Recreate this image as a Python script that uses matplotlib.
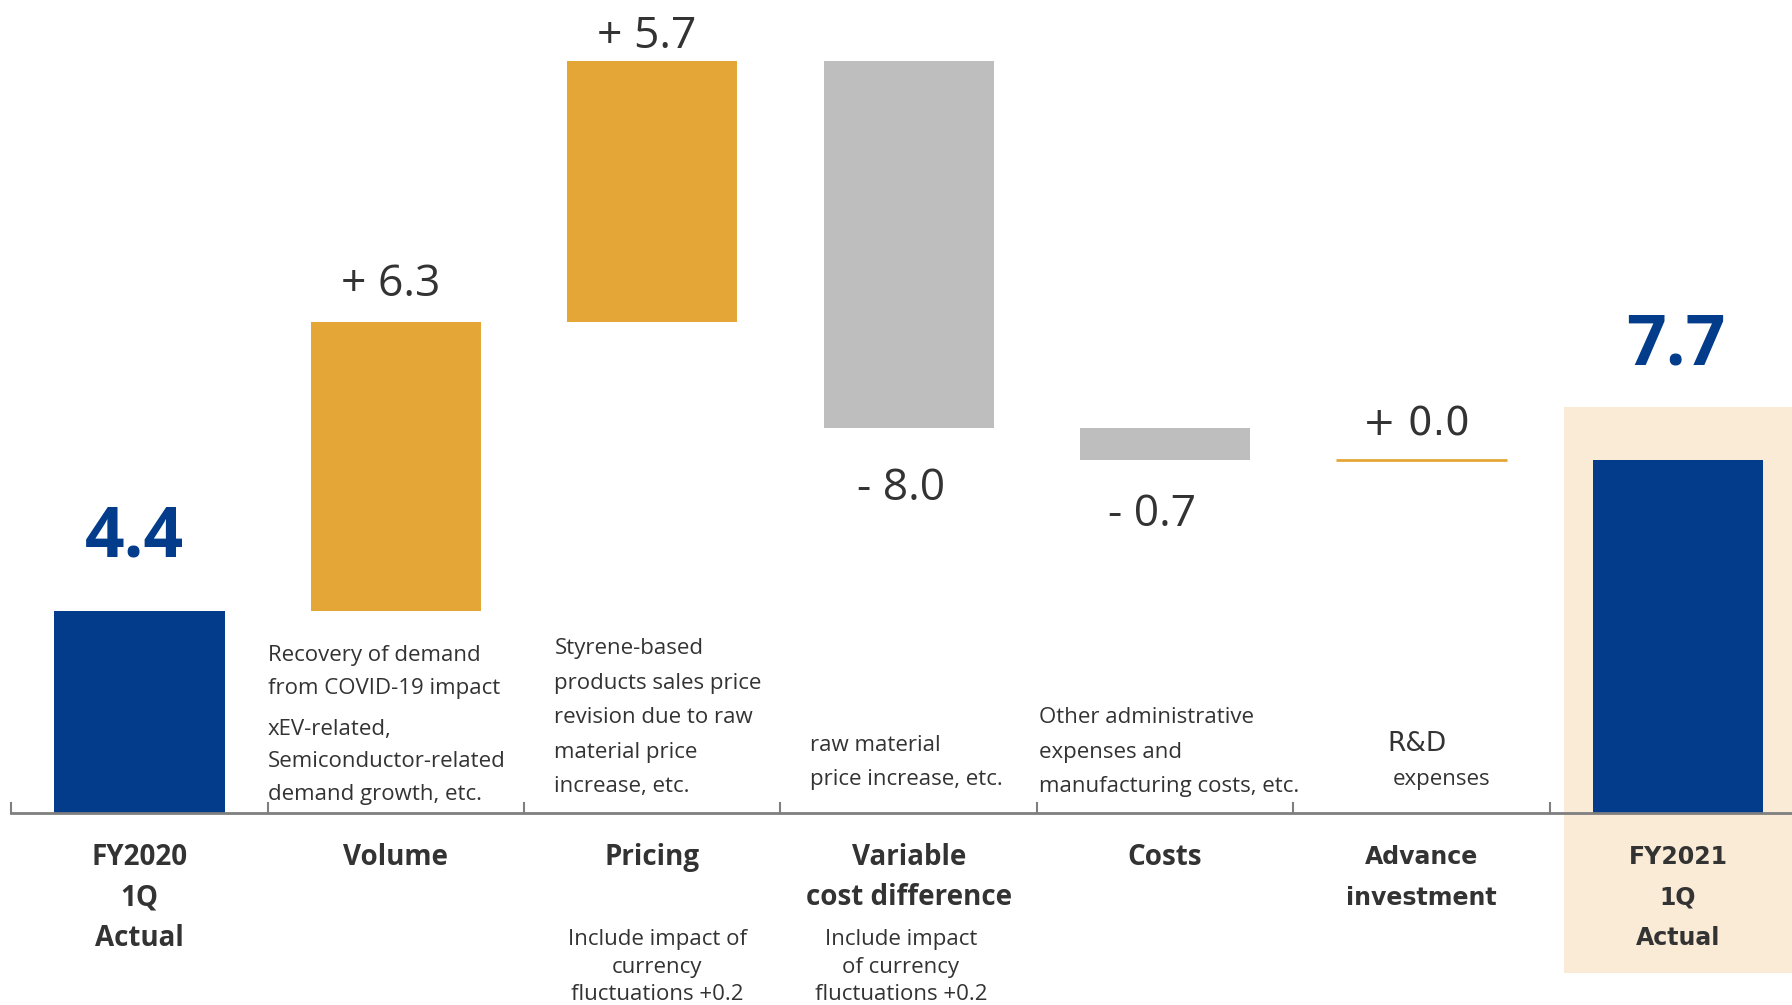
import matplotlib
matplotlib.use('Agg')
import matplotlib.pyplot as plt
from matplotlib import font_manager

# Datos del gráfico de cascada
categorias = ['FY2020\n1Q\nActual', 'Volume', 'Pricing', 'Variable\ncost difference',
              'Costs', 'Advance\ninvestment', 'FY2021\n1Q\nActual']
valores = [4.4, 6.3, 5.7, -8.0, -0.7, 0.0, 7.7]
es_total = [True, False, False, False, False, False, True]

# Textos explicativos sobre el eje (indice de categoria, bloques de lineas)
notas_barra = {
    1: [['Recovery of demand', 'from COVID-19 impact'],
        ['xEV-related,', 'Semiconductor-related', 'demand growth, etc.']],
    2: [['Styrene-based', 'products sales price', 'revision due to raw',
         'material price', 'increase, etc.']],
    3: [['raw material', 'price increase, etc.']],
    4: [['Other administrative', 'expenses and', 'manufacturing costs, etc.']],
}
notas_pie = {
    2: 'Include impact of\ncurrency\nfluctuations +0.2',
    3: 'Include impact\nof currency\nfluctuations +0.2',
}

AZUL = '#023C8B'
NARANJA = '#E4A737'
GRIS = '#BEBEBE'
CREMA = '#F9EBD5'
TEXTO = '#333333'

# Fuente estrecha para los textos explicativos
disponibles = {f.name for f in font_manager.fontManager.ttflist}
if 'Liberation Sans Narrow' in disponibles:
    fuente_nota = dict(family='Liberation Sans Narrow', fontsize=20)
else:
    fuente_nota = dict(family='Open Sans', fontsize=16)

fig = plt.figure(figsize=(17.92, 10.05), dpi=100)
ax = fig.add_axes([0, 0, 1, 1])
ax.set_xlim(-0.544, 6.445)
ax.set_ylim(-4.198, 17.73)
ax.axis('off')

# Calcular bases y alturas
bases, alturas, colores = [], [], []
acumulado = 0
for v, t in zip(valores, es_total):
    if t:
        bases.append(0)
        alturas.append(v)
        colores.append(AZUL)
        acumulado = v
    else:
        bases.append(acumulado if v >= 0 else acumulado + v)
        alturas.append(abs(v))
        colores.append(NARANJA if v >= 0 else GRIS)
        acumulado += v

x = list(range(len(valores)))
ancho = 0.664

# Fondo resaltado del resultado final
ax.add_patch(plt.Rectangle((x[-1] - 0.446, -3.49), 0.892, 12.34,
                           facecolor=CREMA, edgecolor='none', zorder=0))

ax.bar(x, alturas, bottom=bases, width=ancho, color=colores, zorder=2)
for i, v in enumerate(valores):
    if v == 0 and not es_total[i]:
        ax.hlines(bases[i], i - ancho / 2, i + ancho / 2, color=NARANJA, lw=2, zorder=3)

# Eje horizontal con marcas entre categorias
ax.plot([-0.5, 6.445], [0, 0], color='#7F7F7F', lw=2, zorder=4)
for i in range(len(valores)):
    ax.plot([i - 0.5, i - 0.5], [0, 0.22], color='#7F7F7F', lw=1.5, zorder=4)

# Etiquetas de valores
desp_y = [1.19, 0.57, 0.28, -1.57, -1.44, 0.53, 2.08]
desp_x = [-0.02, -0.02, -0.02, -0.03, -0.05, -0.02, -0.01]
for i, v in enumerate(valores):
    if es_total[i]:
        txt = '{:.1f}'.format(v)
        y = bases[i] + alturas[i] + desp_y[i]
        ax.text(i + desp_x[i], y, txt, ha='center', va='baseline', color=AZUL,
                family='Open Sans', fontsize=50, fontweight='bold', zorder=5)
        continue
    if v >= 0:
        txt = '+ {:.1f}'.format(v)
        y = bases[i] + alturas[i] + desp_y[i]
    else:
        txt = '- {:.1f}'.format(abs(v))
        y = bases[i] + desp_y[i]
    fam = 'DejaVu Sans' if v == 0 else 'Open Sans'
    tam = 28 if v == 0 else 32
    ax.text(i + desp_x[i], y, txt, ha='center', va='baseline', color=TEXTO,
            family=fam, fontsize=tam, zorder=5)

# Nombres de categorias
for i, cat in enumerate(categorias):
    if i >= 5:
        estilo = dict(family='DejaVu Sans', fontsize=17, fontweight='bold')
    else:
        estilo = dict(family='Open Sans', fontsize=20, fontweight='bold')
    for k, linea in enumerate(cat.split('\n')):
        ax.text(i, -0.97 - 0.885 * k, linea, ha='center', va='center',
                color=TEXTO, **estilo)

# Textos explicativos
izq = {1: 0.50, 2: 1.618, 3: 2.617, 4: 3.508}
primeras = {1: [3.30, 1.69], 2: [3.45], 3: [1.35], 4: [1.95]}
paso = {1: 0.705, 2: 0.75, 3: 0.75, 4: 0.75}
for i, bloques in notas_barra.items():
    for b, bloque in enumerate(bloques):
        for k, linea in enumerate(bloque):
            ax.text(izq[i], primeras[i][b] - paso[i] * k, linea, ha='left',
                    va='baseline', color=TEXTO, **fuente_nota)

ax.text(4.983, 1.35, 'R&D', ha='center', va='baseline', color=TEXTO,
        family='DejaVu Sans', fontsize=19)
ax.text(5.077, 0.60, 'expenses', ha='center', va='baseline', color=TEXTO,
        **fuente_nota)

# Notas al pie bajo Pricing y Variable
cx = {2: 2.02, 3: 2.97}
for i, nota in notas_pie.items():
    for k, linea in enumerate(nota.split('\n')):
        ax.text(cx[i], -2.77 - 0.6 * k, linea, ha='center', va='center',
                color=TEXTO, family='Open Sans', fontsize=16)

plt.savefig('out.png', dpi=100)
plt.close()
